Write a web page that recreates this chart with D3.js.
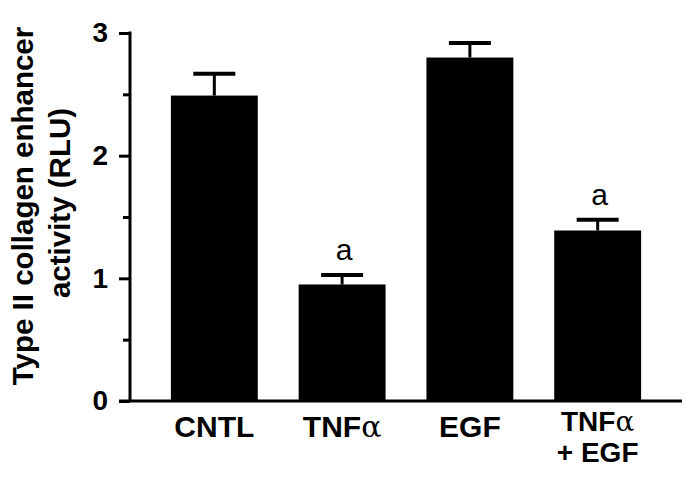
<!DOCTYPE html>
<html>
<head>
<meta charset="utf-8">
<script src="https://cdn.jsdelivr.net/npm/d3@7"></script>
<style>
  body { margin: 0; background: #fff; }
  svg { display: block; font-family: "Liberation Sans", Arial, sans-serif; }
</style>
</head>
<body>
<div id="chart"></div>
<script>
var width = 685;
var height = 481;

// data
var groups = ["CNTL", "TNFa", "EGF", "TNFa+EGF"];
var labelLines = [["CNTL"], ["TNF|α"], ["EGF"], ["TNF|α", "+ EGF"]];
var means = [2.49, 0.95, 2.80, 1.39];
var errors = [0.19, 0.09, 0.13, 0.10];
var marks = ["", "a", "", "a"];
var yTicks = [0, 1, 2, 3];
var yMinorTicks = [0.5, 1.5, 2.5];

var svg = d3.select("#chart")
    .append("svg")
    .attr("width", width)
    .attr("height", height);

var x = d3.scaleBand()
    .domain(groups)
    .range([130, 682])
    .padding(0.32);

var y = d3.scaleLinear()
    .domain([0, 3])
    .range([401, 33]);

// bars
svg.selectAll("rect.bar")
    .data(groups)
    .enter()
    .append("rect")
    .attr("class", "bar")
    .attr("x", function(d){ return x(d); })
    .attr("y", function(d, i){ return y(means[i]); })
    .attr("width", x.bandwidth())
    .attr("height", function(d, i){ return y(0) - y(means[i]); })
    .attr("fill", "#000");

// error bars (upper only)
svg.selectAll("line.err")
    .data(groups)
    .enter()
    .append("line")
    .attr("class", "err")
    .attr("x1", function(d){ return x(d) + x.bandwidth() / 2; })
    .attr("x2", function(d){ return x(d) + x.bandwidth() / 2; })
    .attr("y1", function(d, i){ return y(means[i]); })
    .attr("y2", function(d, i){ return y(means[i] + errors[i]); })
    .attr("stroke", "#000")
    .attr("stroke-width", 3);

svg.selectAll("line.cap")
    .data(groups)
    .enter()
    .append("line")
    .attr("class", "cap")
    .attr("x1", function(d){ return x(d) + x.bandwidth() / 2 - 21; })
    .attr("x2", function(d){ return x(d) + x.bandwidth() / 2 + 21; })
    .attr("y1", function(d, i){ return y(means[i] + errors[i]) + 1.5; })
    .attr("y2", function(d, i){ return y(means[i] + errors[i]) + 1.5; })
    .attr("stroke", "#000")
    .attr("stroke-width", 4);

// significance letters
svg.selectAll("text.mark")
    .data(groups)
    .enter()
    .append("text")
    .attr("class", "mark")
    .attr("x", function(d){ return x(d) + x.bandwidth() / 2 + 2; })
    .attr("y", function(d, i){ return y(means[i] + errors[i]) - 13; })
    .attr("text-anchor", "middle")
    .attr("font-size", "30px")
    .text(function(d, i){ return marks[i]; });

// y axis
var yAxis = d3.axisLeft(y)
    .tickValues(yTicks)
    .tickSize(11)
    .tickPadding(11)
    .tickFormat(d3.format("d"));

var gy = svg.append("g")
    .attr("transform", "translate(130,0)")
    .call(yAxis);

gy.select(".domain").remove();
gy.selectAll(".tick line").attr("stroke-width", 3);
gy.selectAll(".tick text")
    .attr("font-size", "28px")
    .attr("font-weight", "bold")
    .attr("font-family", "Liberation Sans, Arial, sans-serif")
    .attr("fill", "#000");

gy.append("line")
    .attr("x1", 0)
    .attr("x2", 0)
    .attr("y1", y(3) - 1.5)
    .attr("y2", y(0))
    .attr("stroke", "#000")
    .attr("stroke-width", 3);

var yMinor = d3.axisLeft(y)
    .tickValues(yMinorTicks)
    .tickSize(7)
    .tickFormat("");

var gm = svg.append("g")
    .attr("transform", "translate(130,0)")
    .call(yMinor);
gm.select(".domain").remove();
gm.selectAll(".tick line").attr("stroke-width", 3);

// x axis line
var xAxis = d3.axisBottom(x)
    .tickSize(0)
    .tickFormat("");

var gx = svg.append("g")
    .attr("transform", "translate(0," + y(0) + ")")
    .call(xAxis);

gx.select(".domain")
    .attr("d", "M119,0H682")
    .attr("stroke-width", 3);

// category labels, one text per line
groups.forEach(function(d, i){
    var lines = labelLines[i];
    var cx = x(d) + x.bandwidth() / 2;
    var two = lines.length > 1;
    lines.forEach(function(line, j){
        var parts = line.split("|");
        var t = svg.append("text")
            .attr("class", "cat")
            .attr("x", cx)
            .attr("y", two ? 431 + j * 31 : 437)
            .attr("text-anchor", "middle")
            .attr("font-size", two ? "28px" : "30px")
            .attr("font-weight", "bold");
        t.append("tspan").text(parts[0]);
        if (parts.length > 1) {
            t.append("tspan")
                .attr("font-weight", "normal")
                .attr("font-family", "DejaVu Serif, serif")
                .text(parts[1]);
        }
    });
});

// y label
var ylab = svg.append("text")
    .attr("transform", "rotate(-90)")
    .attr("text-anchor", "middle")
    .attr("font-size", "29.5px")
    .attr("font-weight", "bold");

ylab.append("tspan")
    .attr("x", -206)
    .attr("y", 33)
    .text("Type II collagen enhancer");

ylab.append("tspan")
    .attr("x", -203)
    .attr("y", 70)
    .text("activity (RLU)");
</script>
</body>
</html>
